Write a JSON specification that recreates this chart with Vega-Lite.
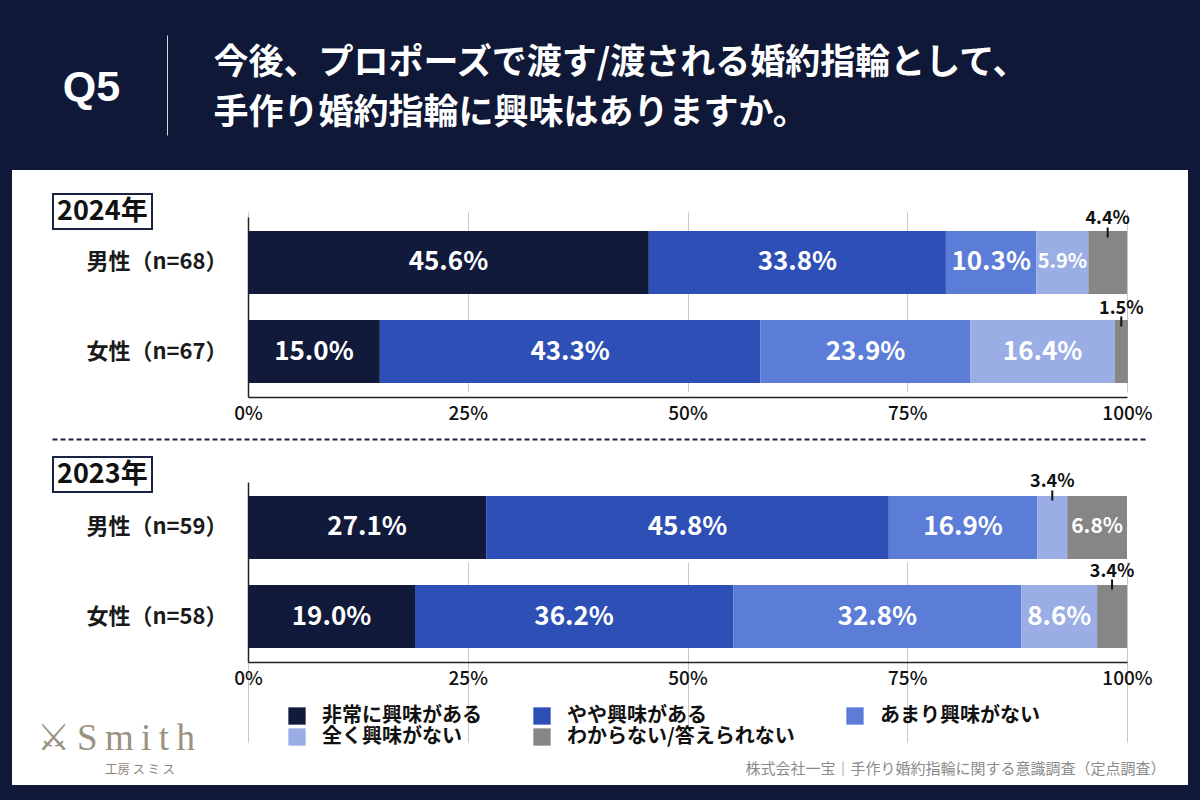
{
  "$schema": "https://vega.github.io/schema/vega-lite/v6.json",
  "background": "#0f1837",
  "padding": {"left": 12, "right": 12, "top": 0, "bottom": 15},
  "spacing": 0,
  "config": {
    "view": {"stroke": null},
    "font": "Noto Sans CJK JP",
    "legend": {"strokeWidth": 2}
  },
  "datasets": {
    "d": [
      {"year": "2024年", "grp": "男性（n=68）", "cat": "非常に興味がある", "ord": 1, "v": 0.456},
      {"year": "2024年", "grp": "男性（n=68）", "cat": "やや興味がある", "ord": 2, "v": 0.338},
      {"year": "2024年", "grp": "男性（n=68）", "cat": "あまり興味がない", "ord": 3, "v": 0.103},
      {"year": "2024年", "grp": "男性（n=68）", "cat": "全く興味がない", "ord": 4, "v": 0.059},
      {"year": "2024年", "grp": "男性（n=68）", "cat": "わからない/答えられない", "ord": 5, "v": 0.044},
      {"year": "2024年", "grp": "女性（n=67）", "cat": "非常に興味がある", "ord": 1, "v": 0.150},
      {"year": "2024年", "grp": "女性（n=67）", "cat": "やや興味がある", "ord": 2, "v": 0.433},
      {"year": "2024年", "grp": "女性（n=67）", "cat": "あまり興味がない", "ord": 3, "v": 0.239},
      {"year": "2024年", "grp": "女性（n=67）", "cat": "全く興味がない", "ord": 4, "v": 0.164},
      {"year": "2024年", "grp": "女性（n=67）", "cat": "わからない/答えられない", "ord": 5, "v": 0.015},
      {"year": "2023年", "grp": "男性（n=59）", "cat": "非常に興味がある", "ord": 1, "v": 0.271},
      {"year": "2023年", "grp": "男性（n=59）", "cat": "やや興味がある", "ord": 2, "v": 0.458},
      {"year": "2023年", "grp": "男性（n=59）", "cat": "あまり興味がない", "ord": 3, "v": 0.169},
      {"year": "2023年", "grp": "男性（n=59）", "cat": "全く興味がない", "ord": 4, "v": 0.034},
      {"year": "2023年", "grp": "男性（n=59）", "cat": "わからない/答えられない", "ord": 5, "v": 0.068},
      {"year": "2023年", "grp": "女性（n=58）", "cat": "非常に興味がある", "ord": 1, "v": 0.190},
      {"year": "2023年", "grp": "女性（n=58）", "cat": "やや興味がある", "ord": 2, "v": 0.362},
      {"year": "2023年", "grp": "女性（n=58）", "cat": "あまり興味がない", "ord": 3, "v": 0.328},
      {"year": "2023年", "grp": "女性（n=58）", "cat": "全く興味がない", "ord": 4, "v": 0.086},
      {"year": "2023年", "grp": "女性（n=58）", "cat": "わからない/答えられない", "ord": 5, "v": 0.034}
    ]
  },
  "data": {"name": "d"},
  "resolve": {
    "scale": {"color": "independent", "strokeDash": "independent"},
    "legend": {"color": "independent", "strokeDash": "independent"}
  },
  "vconcat": [
    {
      "width": 1176,
      "height": 170,
      "mark": {"type": "point", "opacity": 0},
      "encoding": {
        "x": {
          "field": "v", "type": "quantitative",
          "axis": {
            "orient": "bottom", "domain": false, "ticks": false, "labels": false, "grid": false,
            "title": ["今後、プロポーズで渡す/渡される婚約指輪として、", "手作り婚約指輪に興味はありますか。"],
            "titleX": 201, "titleY": -125, "titleAlign": "left", "titleAnchor": "start", "titleBaseline": "top",
            "titleFontSize": 35, "titleFontWeight": "bold", "titleColor": "#ffffff", "titleLineHeight": 50,
            "titleFont": "Noto Sans CJK JP"
          }
        },
        "y": {
          "field": "v", "type": "quantitative",
          "scale": {"range": [35, 135]},
          "axis": {
            "orient": "left", "offset": -155, "domain": true, "domainColor": "#d6d6d6", "domainWidth": 1,
            "ticks": false, "labels": false, "grid": false,
            "title": "Q5", "titleAngle": 0, "titleX": -76, "titleY": 87, "titleAlign": "center", "titleBaseline": "middle",
            "titleFontSize": 43, "titleFontWeight": "bold", "titleColor": "#ffffff", "titleFont": "Liberation Sans"
          }
        }
      }
    },
    {
      "width": 1176,
      "height": 269,
      "view": {"fill": "#ffffff", "stroke": null},
      "transform": [{"filter": "datum.year === '2024年'"}],
      "encoding": {
        "y": {
          "field": "grp", "type": "nominal", "sort": null,
          "scale": {"range": [47, 227], "paddingInner": 0.292, "paddingOuter": 0.157},
          "axis": {
            "orient": "left", "offset": -236, "title": null, "domain": true, "domainColor": "#222222", "domainWidth": 1.5,
            "ticks": false, "grid": false, "labelPadding": 21, "labelFontSize": 22, "labelFontWeight": "bold",
            "labelColor": "#1a1a1a", "labelFont": "Noto Sans CJK JP"
          }
        },
        "x": {
          "field": "v", "type": "quantitative", "stack": "zero",
          "scale": {"domain": [0, 1], "range": [236, 1115], "nice": false},
          "axis": {
            "orient": "bottom", "offset": -42, "values": [0, 0.25, 0.5, 0.75, 1], "format": ".0%", "labelFlush": false,
            "domain": true, "domainColor": "#222222", "domainWidth": 1.5, "ticks": false,
            "grid": true, "gridColor": "#c8c8c8", "gridWidth": 1,
            "labelPadding": 7, "labelFontSize": 19, "labelFontWeight": 500, "labelColor": "#111111", "title": null
          }
        },
        "order": {"field": "ord", "type": "quantitative"},
        "detail": {"field": "cat", "type": "nominal"}
      },
      "layer": [
        {
          "mark": {"type": "bar"},
          "encoding": {
            "color": {
              "field": "cat", "type": "nominal",
              "scale": {
                "domain": ["非常に興味がある", "やや興味がある", "あまり興味がない", "全く興味がない", "わからない/答えられない"],
                "range": ["#111a3b", "#2e4fb5", "#5b7cd7", "#9aaee5", "#868686"]
              },
              "legend": null
            },
            "strokeDash": {
              "field": "year", "type": "nominal",
              "scale": {"range": [[1, 0]]},
              "legend": {
                "orient": "none", "legendX": 41, "legendY": 24, "title": null,
                "symbolSize": 0, "symbolStrokeWidth": 0, "symbolOpacity": 0, "labelOffset": -27,
                "labelFontSize": 27, "labelFontWeight": "bold", "labelColor": "#111111", "labelLimit": 0,
                "strokeColor": "#1b2342", "padding": 4
              }
            }
          }
        },
        {
          "mark": {"type": "text", "color": "#ffffff", "fontWeight": "bold"},
          "encoding": {
            "x": {"field": "v", "type": "quantitative", "stack": "zero", "bandPosition": 0.5},
            "text": {"field": "v", "type": "quantitative", "format": ".1%", "condition": {"test": "datum.v < 0.05", "value": ""}},
            "size": {"condition": {"test": "datum.v < 0.07", "value": 20}, "value": 26}
          }
        },
        {
          "mark": {"type": "text", "color": "#111111", "fontWeight": 600, "fontSize": 18, "dy": -43},
          "encoding": {
            "x": {"field": "v", "type": "quantitative", "stack": "zero", "bandPosition": 0.5},
            "text": {"field": "v", "type": "quantitative", "format": ".1%", "condition": {"test": "datum.v >= 0.05", "value": ""}}
          }
        },
        {
          "mark": {"type": "tick", "color": "#111111", "thickness": 2, "size": 10, "yOffset": -30},
          "encoding": {
            "x": {"field": "v", "type": "quantitative", "stack": "zero", "bandPosition": 0.5},
            "opacity": {"condition": {"test": "datum.v < 0.05", "value": 1}, "value": 0}
          }
        }
      ]
    },
    {
      "width": 1176,
      "height": 346,
      "view": {"fill": "#ffffff", "stroke": null},
      "transform": [{"filter": "datum.year === '2023年'"}],
      "title": {
        "text": "工房\u2009ス\u2009ミ\u2009ス", "orient": "bottom", "anchor": "start", "offset": -21, "dx": 93,
        "fontSize": 12.5, "color": "#8f8577", "fontWeight": "normal", "font": "Noto Sans CJK JP"
      },
      "resolve": {"scale": {"x": "independent"}},
      "layer": [
        {
          "encoding": {
            "y": {
              "field": "grp", "type": "nominal", "sort": null,
              "scale": {"range": [43, 223], "paddingInner": 0.292, "paddingOuter": 0.157},
              "axis": {
                "orient": "left", "offset": -236, "domain": true, "domainColor": "#222222", "domainWidth": 1.5,
                "ticks": false, "grid": false, "labelPadding": 21, "labelFontSize": 22, "labelFontWeight": "bold",
                "labelColor": "#1a1a1a", "labelFont": "Noto Sans CJK JP",
                "title": "⚔\u2009S\u2009m\u2009i\u2009t\u2009h", "titleAngle": 0, "titleX": -212, "titleY": 299,
                "titleAlign": "left", "titleBaseline": "middle", "titleFontSize": 37, "titleFontWeight": "normal",
                "titleColor": "#9b9181", "titleFont": "Liberation Serif, DejaVu Serif"
              }
            },
            "x": {
              "field": "v", "type": "quantitative", "stack": "zero",
              "scale": {"domain": [0, 1], "range": [236, 1115], "nice": false},
              "axis": {
                "orient": "bottom", "offset": -123, "values": [0, 0.25, 0.5, 0.75, 1], "format": ".0%", "labelFlush": false,
                "domain": true, "domainColor": "#222222", "domainWidth": 1.5, "ticks": false,
                "grid": true, "gridColor": "#c8c8c8", "gridWidth": 1,
                "labelPadding": 7, "labelFontSize": 19, "labelFontWeight": 500, "labelColor": "#111111",
                "title": "株式会社一宝｜手作り婚約指輪に関する意識調査（定点調査）",
                "titleX": 1153, "titleY": 106, "titleAlign": "right", "titleBaseline": "middle",
                "titleFontSize": 15, "titleFontWeight": "normal", "titleColor": "#8a8a8a"
              }
            },
            "order": {"field": "ord", "type": "quantitative"},
            "detail": {"field": "cat", "type": "nominal"}
          },
          "layer": [
            {
              "mark": {"type": "bar"},
              "encoding": {
                "color": {
                  "field": "cat", "type": "nominal",
                  "scale": {
                    "domain": ["非常に興味がある", "やや興味がある", "あまり興味がない", "全く興味がない", "わからない/答えられない"],
                    "range": ["#111a3b", "#2e4fb5", "#5b7cd7", "#9aaee5", "#868686"]
                  },
                  "legend": {
                    "orient": "none", "legendX": 275, "legendY": 267, "direction": "horizontal", "columns": 3,
                    "title": null, "symbolType": "square", "symbolSize": 300, "symbolStrokeWidth": 0,
                    "labelFontSize": 20, "labelFontWeight": "bold", "labelColor": "#111111", "labelOffset": 15,
                    "columnPadding": 50, "rowPadding": 1, "labelLimit": 0, "padding": 0
                  }
                },
                "strokeDash": {
                  "field": "year", "type": "nominal",
                  "scale": {"range": [[1, 0]]},
                  "legend": {
                    "orient": "none", "legendX": 41, "legendY": 18, "title": null,
                    "symbolSize": 0, "symbolStrokeWidth": 0, "symbolOpacity": 0, "labelOffset": -27,
                    "labelFontSize": 27, "labelFontWeight": "bold", "labelColor": "#111111", "labelLimit": 0,
                    "strokeColor": "#1b2342", "padding": 4
                  }
                }
              }
            },
            {
              "mark": {"type": "text", "color": "#ffffff", "fontWeight": "bold"},
              "encoding": {
                "x": {"field": "v", "type": "quantitative", "stack": "zero", "bandPosition": 0.5},
                "text": {"field": "v", "type": "quantitative", "format": ".1%", "condition": {"test": "datum.v < 0.05", "value": ""}},
                "size": {"condition": {"test": "datum.v < 0.07", "value": 21}, "value": 26}
              }
            },
            {
              "mark": {"type": "text", "color": "#111111", "fontWeight": 600, "fontSize": 18, "dy": -45},
              "encoding": {
                "x": {"field": "v", "type": "quantitative", "stack": "zero", "bandPosition": 0.5},
                "text": {"field": "v", "type": "quantitative", "format": ".1%", "condition": {"test": "datum.v >= 0.05", "value": ""}}
              }
            },
            {
              "mark": {"type": "tick", "color": "#111111", "thickness": 2, "size": 10, "yOffset": -32},
              "encoding": {
                "x": {"field": "v", "type": "quantitative", "stack": "zero", "bandPosition": 0.5},
                "opacity": {"condition": {"test": "datum.v < 0.05", "value": 1}, "value": 0}
              }
            }
          ]
        },
        {
          "mark": {"type": "point", "opacity": 0},
          "encoding": {
            "x": {
              "field": "v", "type": "quantitative",
              "scale": {"range": [40, 1133]},
              "axis": {
                "orient": "top", "domain": true, "domainColor": "#1b2342", "domainWidth": 2, "domainDash": [5, 3],
                "ticks": false, "labels": false, "grid": false, "title": null
              }
            }
          }
        }
      ]
    }
  ]
}
